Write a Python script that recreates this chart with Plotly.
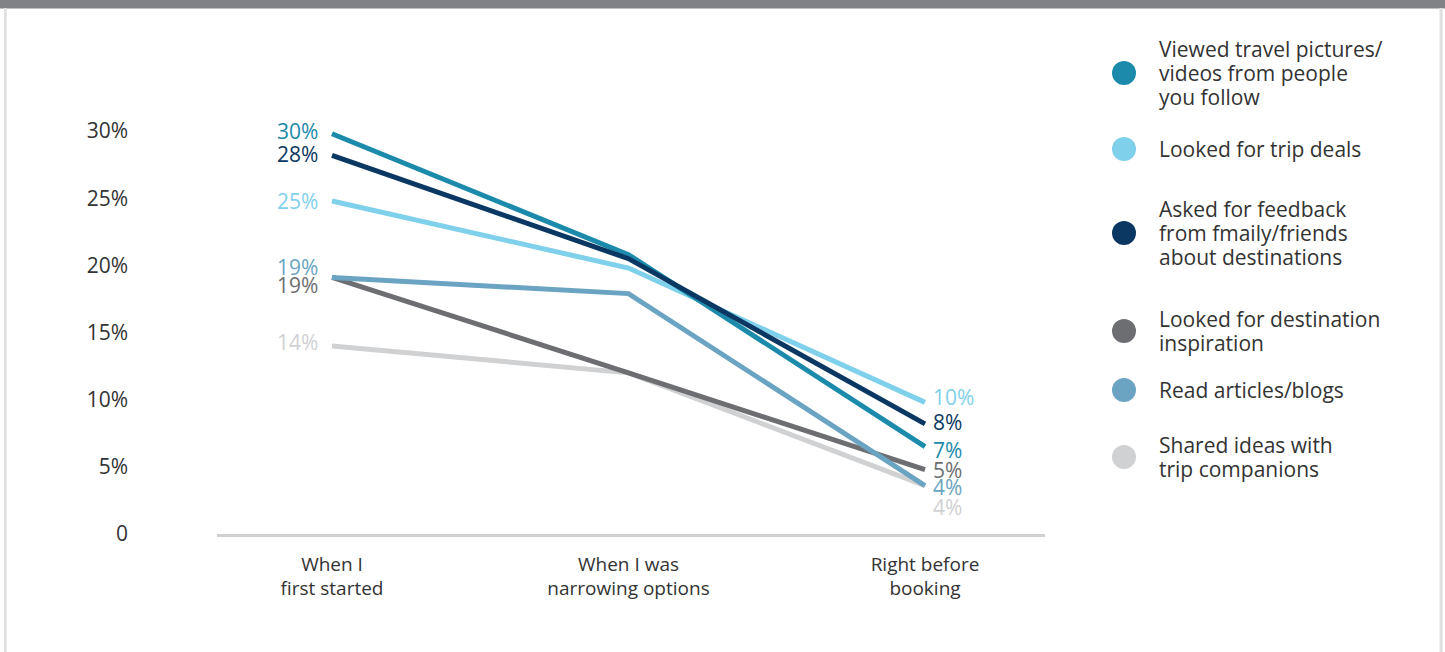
import plotly.graph_objects as go

# ---------------- data ----------------
stages = ["When I<br>first started", "When I was<br>narrowing options", "Right before<br>booking"]
y_ticks = [0, 5, 10, 15, 20, 25, 30]
y_tick_labels = ["0", "5%", "10%", "15%", "20%", "25%", "30%"]

series_names = [
    "Viewed travel pictures/<br>videos from people<br>you follow",
    "Looked for trip deals",
    "Asked for feedback<br>from fmaily/friends<br>about destinations",
    "Looked for destination<br>inspiration",
    "Read articles/blogs",
    "Shared ideas with<br>trip companions",
]
viewed_pictures = [29.8, 20.8, 6.5]
trip_deals = [24.8, 19.8, 9.8]
feedback_friends = [28.2, 20.5, 8.2]
destination_inspiration = [19.1, 12.0, 4.8]
articles_blogs = [19.1, 17.9, 3.6]
shared_ideas = [14.0, 12.0, 3.6]

series_values = [viewed_pictures, trip_deals, feedback_friends,
                 destination_inspiration, articles_blogs, shared_ideas]

# ---------------- style ----------------
colors = ["#1b8aab", "#7fd0eb", "#0b3862", "#6d6e72", "#6aa4c2", "#d0d1d3"]
draw_order = [5, 3, 4, 1, 0, 2]
start_label_shift = [3, 0, 1, -8, 10, 4]
end_label_shift = [-3, 5, 2, 0, -1, -21]
legend_center_px = [73, 149, 233, 331, 390, 457]
FONT = "Open Sans"
TEXT = "#333333"
FS = 21

W, H = 1445, 652
ML, MR, MT, MB = 217, 400, 90, 118
PW, PH = W - ML - MR, H - MT - MB


def px_x(px):
    return (px - ML) / PW


def px_y(py):
    return (H - MB - py) / PH


fig = go.Figure()

for i in draw_order:
    fig.add_trace(go.Scatter(
        x=stages, y=series_values[i], mode="lines", name=series_names[i].replace("<br>", " "),
        line=dict(color=colors[i], width=5), showlegend=False, hoverinfo="skip",
    ))

annotations = []
for i, vals in enumerate(series_values):
    annotations.append(dict(
        x=0, y=vals[0], xref="x", yref="y", text=f"{int(vals[0] + 0.5)}%",
        showarrow=False, xanchor="right", yanchor="middle", xshift=-12,
        yshift=start_label_shift[i], font=dict(family=FONT, size=FS, color=colors[i]),
    ))
    annotations.append(dict(
        x=2, y=vals[-1], xref="x", yref="y", text=f"{int(vals[-1] + 0.5)}%",
        showarrow=False, xanchor="left", yanchor="middle", xshift=6,
        yshift=end_label_shift[i], font=dict(family=FONT, size=FS, color=colors[i]),
    ))

shapes = [
    # top bar and frame
    dict(type="rect", xref="paper", yref="paper", x0=px_x(-5), x1=px_x(W + 5),
         y0=px_y(8.4), y1=px_y(-5), fillcolor="#808285", line_width=0, layer="below"),
    dict(type="rect", xref="paper", yref="paper", x0=px_x(4), x1=px_x(6.8),
         y0=px_y(H + 5), y1=px_y(8), fillcolor="#dfe0e1", line_width=0, layer="below"),
    dict(type="rect", xref="paper", yref="paper", x0=px_x(1439.5), x1=px_x(1442.7),
         y0=px_y(H + 5), y1=px_y(8), fillcolor="#dfe0e1", line_width=0, layer="below"),
]

# legend (manual)
LINE_H = 24
for i, name in enumerate(series_names):
    cy = legend_center_px[i]
    shapes.append(dict(type="circle", xref="paper", yref="paper",
                       xsizemode="pixel", ysizemode="pixel",
                       xanchor=px_x(1124), yanchor=px_y(cy),
                       x0=-12, x1=12, y0=-12, y1=12,
                       fillcolor=colors[i], line_width=0))
    lines = name.split("<br>")
    n = len(lines)
    for k, ln in enumerate(lines):
        ly = cy + (k - (n - 1) / 2) * LINE_H
        annotations.append(dict(
            x=px_x(1157), y=px_y(ly), xref="paper", yref="paper", text=ln,
            showarrow=False, xanchor="left", yanchor="middle",
            font=dict(family=FONT, size=FS, color=TEXT),
        ))

# category positions: 0 -> ~332 px, 2 -> ~925 px
span = 2 * PW / (925 - 332)
r0 = -(332 - ML) / PW * span
fig.update_layout(
    width=W, height=H,
    margin=dict(l=ML, r=MR, t=MT, b=MB, pad=0),
    paper_bgcolor="white", plot_bgcolor="white",
    font=dict(family=FONT, color=TEXT),
    showlegend=False,
    annotations=annotations,
    shapes=shapes,
    xaxis=dict(
        type="category", range=[r0, r0 + span], showgrid=False, zeroline=False,
        showline=True, linecolor="#d0d0d0", linewidth=2.5,
        ticks="", tickfont=dict(family=FONT, size=19, color=TEXT),
        ticklabelstandoff=11, fixedrange=True,
    ),
    yaxis=dict(
        range=[0, PH / 13.43], showgrid=False, zeroline=False, showline=False,
        tickvals=y_ticks, ticktext=y_tick_labels, ticks="",
        tickfont=dict(family=FONT, size=FS, color=TEXT),
        ticklabelstandoff=88, fixedrange=True,
    ),
)

fig.write_html("out.html")
